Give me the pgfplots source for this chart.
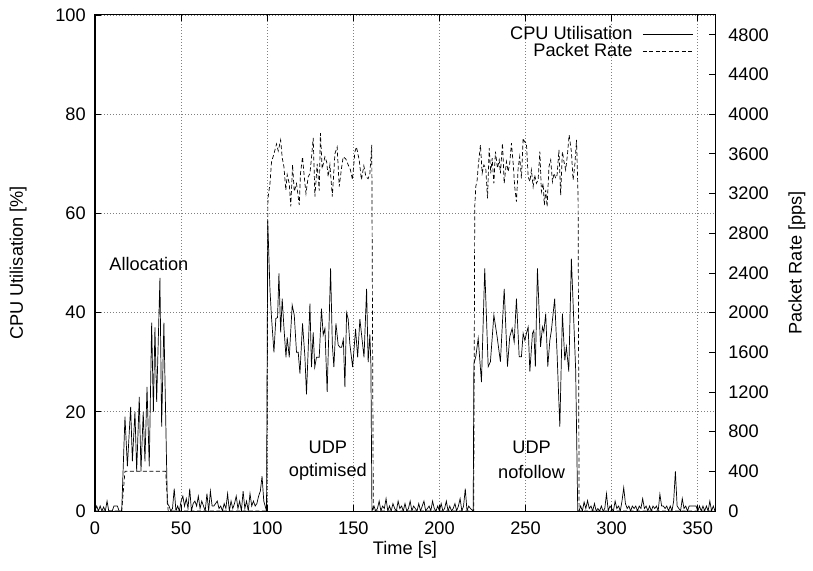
\documentclass[border=0pt]{standalone}
\usepackage{fontspec}
\setmainfont{Liberation Sans}
\usepackage{pgfplots}
\pgfplotsset{compat=1.18}
\usetikzlibrary{calc}

\begin{document}
\fontsize{18.2}{21}\selectfont
\begin{tikzpicture}
\pgfplotsset{
  every axis/.append style={
    scale only axis, width=620pt, height=496pt,
    xmin=0, xmax=360,
    font=\fontsize{18.2}{21}\selectfont,
    /pgf/number format/assume math mode=true,
    /pgf/number format/1000 sep={},
    scaled ticks=false,
    major tick length=6pt,
    tick style={black, line width=0.8pt},
    axis line style={line width=1pt},
  }
}
\begin{axis}[
  name=main,
  ymin=0, ymax=100,
  xtick={0,50,...,350},
  ytick={0,20,...,100},
  xtick pos=both, ytick pos=left,
  xticklabel style={yshift=-5pt},
  yticklabel style={xshift=-3pt},
  grid=major,
  major grid style={gray, line width=0.7pt, dash pattern=on 1pt off 2pt},
  xlabel={Time [s]},
  ylabel={CPU Utilisation [\%]},
  xlabel style={at={(axis description cs:0.5,-0.079)}, anchor=center},
  ylabel style={at={(axis description cs:-0.124,0.5)}, anchor=center},
]
\addplot[black, line width=0.7pt] coordinates {
(0,0) (1,1) (2,0) (3,1) (4,0) (5,0.8) (6,0) (7,2) (8,0) (9,0) (10,0) (11,1) (12,1) (13,1) (14,0) (15.5,0)
(17.4,19) (18.8,9) (20.7,21) (21.7,10) (23.2,20) (24.2,8) (25.7,23) (26.7,8) (28.0,20) (29.0,10)
(30.2,25) (31.5,9) (32.9,38) (33.9,20) (34.8,37) (35.8,22) (37.7,47) (38.7,17) (40.0,38) (42.0,1.5)
(43,1) (44,0) (45,0.5) (46,4.5) (47,0) (48,1) (49,0) (50,2) (51,3) (52,1) (53,2.5) (54,0.5) (55,4.5)
(56,0) (57,1.5) (58,2) (59,1) (60,3) (61,0.5) (62,2) (63,1) (64,0) (65,3.5) (66,0) (67,4) (68,1)
(69,1) (70,1.5) (71,2) (72,0.5) (73,1) (74,0) (75,1.5) (76,0.5) (77,3.5) (78,0) (79,2) (80,0.5)
(81,1.5) (82,3) (83,0.5) (84,2) (85,0) (86,4) (87,0.5) (88,2) (89,0) (90,3.5) (91,1) (92,2) (93,1)
(94,1.5) (95,3) (96,4) (97,7) (98,2) (99.6,0)
(100.3,58.5) (101.6,44.5) (102.5,39) (103.9,32) (105.0,38.8) (106.0,39) (106.8,47.9) (107.8,36)
(108.7,42.8) (109.7,37) (110.9,31) (111.6,35) (112.8,31) (114.5,41.5) (115.7,39.5) (117.0,32)
(118.0,32) (119.0,27.7) (120.5,37.8) (121.9,31) (122.8,23.5) (124.8,41.8) (125.7,29) (126.7,36)
(127.6,29) (128.6,31) (130.2,31) (131.5,40.8) (132.5,35.5) (133.5,36.8) (134.8,24) (136.8,48.9)
(137.8,33.6) (138.7,29) (139.9,37.8) (141.2,33.5) (142.2,33) (143.2,33) (144.2,34.6) (145.1,25)
(146.1,40) (147.0,38.7) (148.0,33.6) (149.6,29) (151.3,36.7) (152.5,31) (153.8,38.7) (156.2,31)
(157.7,44.8) (158.6,30) (159.6,35.6) (160.2,29.5) (160.8,0)
(162,1) (163,0) (164,0.5) (165,2) (166,0) (167,1) (168,0.5) (169,2.5) (170,0) (171,1) (172,0)
(173,1.5) (174,0.5) (175,0) (176,2) (177,0.5) (178,1) (179,0) (180,1.5) (181,0) (182,0.5) (183,2)
(184,0) (185,1) (186,0.5) (187,0) (188,1.5) (189,0) (190,1) (191,2) (192,0) (193,0.5) (194,1)
(195,0) (196,2) (197,0.5) (198,0) (199,1) (200,0) (201,1.5) (202,0) (203,0.5) (204,2) (205,0)
(206,1) (207,0) (208,0.5) (209,1.5) (210,0) (211,1) (212,2.5) (213,0) (214,1) (215,4.5) (216,0)
(217,1) (218,0.5) (219.6,0)
(220.0,29.7) (221.1,31.1) (222.5,34.8) (224.4,26) (226.3,48.9) (228.3,29.1) (229.6,30.1)
(231.6,39.5) (233.5,35.1) (235.4,30.1) (237.6,44.8) (239.5,29.1) (240.8,35.1) (242.2,36.8)
(243.4,34.1) (244.7,42.8) (246.3,31.1) (247.6,31.1) (248.6,35.8) (249.6,34.4) (250.5,35.8)
(251.5,37.1) (252.5,28.1) (254.0,35.8) (254.8,36.4) (255.7,29.1) (256.9,48.9) (258.7,33.1)
(259.8,37.1) (260.6,36.1) (261.7,39.8) (262.9,29.1) (264.1,34.4) (265.0,36.4) (266.9,42.8)
(268.3,31.7) (269.9,17) (271.4,39.8) (272.8,30.4) (273.7,33.1) (275.1,28.1) (276.6,50.9)
(279.1,28.4) (280.3,0)
(281,0) (282,1) (283,0) (284,1.8) (285,0.5) (286,2.1) (287,0.5) (288,1) (289,0) (290,1.5) (291,0)
(292,0.5) (293,0) (294,1) (295,0) (296,0.5) (297,3.5) (298,0) (299,1) (300,0.5) (301,0) (302,2)
(303,0.5) (304,1) (305,0) (306,2) (307,4.7) (308,1.5) (309,0.5) (310,1) (311,0) (312,1) (313,0.5)
(314,1) (315,0) (316,1) (317,0.5) (318,2.5) (319,0.5) (320,1) (321,0) (322,1) (323,0) (324,1)
(325,0.5) (326,1) (327,0) (328,3.4) (329,1) (330,1) (331,0.5) (332,1) (333,0) (334,1) (335,0)
(336,2) (337,8) (338,1) (339,0.5) (340,0) (341,2.5) (342,0.5) (343,1) (344,0) (345,1) (346,1)
(347,1) (348,1) (349,1) (350,0) (351,1) (352,0) (353,1) (354,0) (355,1) (356,0) (357,2) (358,0)
(359,1) (360,0)
};
\node at (axis cs:31.3,49.8) {Allocation};
\node at (axis cs:135.2,12.9) {UDP};
\node at (axis cs:135.2,7.9) {optimised};
\node at (axis cs:253.5,12.9) {UDP};
\node at (axis cs:253.5,7.9) {nofollow};
\end{axis}
\begin{axis}[
  ymin=0, ymax=5000,
  ytick={0,400,...,4800},
  xtick=\empty,
  ytick pos=right, yticklabel pos=right,
  yticklabel style={xshift=7pt},
  ylabel={Packet Rate [pps]},
  ylabel style={at={(axis description cs:1.132,0.5)}, anchor=center},
  legend style={draw=none, fill=none, at={(axis description cs:0.97,0.985)}, anchor=north east, row sep=-3pt, column sep=8pt},
  legend cell align=right,
  legend plot pos=right,
  legend image code/.code={\draw[#1] (0pt,0pt) -- (50pt,0pt);},
]
\addlegendimage{black, line width=0.7pt}
\addlegendentry{CPU Utilisation}
\addplot[black, line width=0.7pt, dash pattern=on 4pt off 2.5pt] coordinates {
(0,0) (15.5,0) (17.4,400) (41,400) (42.5,0) (99.8,0)
(100.4,3150) (101.6,3300) (102.5,3520) (103.9,3600) (105.4,3700) (106.4,3630) (107.8,3740)
(108.7,3560) (109.7,3470) (110.8,3235) (111.6,3390) (112.8,3300) (113.7,3070) (114.7,3490)
(115.7,3220) (117.0,3300) (118.6,3085) (119.3,3400) (120.5,3570) (121.5,3370) (122.5,3200)
(123.8,3370) (124.8,3400) (125.7,3560) (126.7,3760) (127.7,3170) (129.0,3500) (130.2,3230)
(130.9,3810) (131.9,3450) (133.5,3570) (134.5,3520) (135.4,3370) (136.4,3490) (137.8,3170)
(139.3,3600) (140.6,3670) (141.8,3270) (143.1,3450) (144.1,3570) (145.6,3550) (147.0,3490)
(148.3,3440) (149.5,3340) (150.9,3620) (151.8,3670) (153.4,3540) (154.7,3340) (156.1,3480)
(157.3,3370) (158.6,3350) (159.6,3400) (160.7,3690) (161.6,0)
(219.9,0) (220.5,3067) (221.1,3269) (221.9,3337) (222.5,3471) (223.8,3690) (224.8,3404)
(225.8,3488) (226.9,3455) (227.9,3152) (228.9,3657) (229.8,3404) (230.6,3556) (231.6,3303)
(232.5,3623) (233.7,3455) (234.7,3539) (235.4,3404) (236.6,3707) (237.6,3303) (238.9,3522)
(239.9,3421) (240.8,3505) (241.8,3707) (242.8,3505) (243.7,3269) (244.7,3118) (245.7,3455)
(246.6,3572) (247.6,3354) (248.6,3758) (249.3,3724) (250.5,3707) (251.5,3370) (252.5,3320)
(253.4,3438) (254.4,3269) (255.3,3387) (256.3,3303) (257.3,3337) (258.3,3623) (259.2,3219)
(260.2,3303) (260.9,3084) (261.7,3236) (262.5,3067) (263.6,3471) (264.6,3539) (265.6,3320)
(266.5,3404) (267.5,3354) (268.3,3387) (269.4,3640) (270.4,3185) (271.4,3623) (272.3,3522)
(273.3,3438) (274.3,3589) (275.3,3791) (276.6,3623) (277.6,3337) (278.6,3488) (279.6,3741)
(280.5,3168) (281.1,0) (360,0)
};
\addlegendentry{Packet Rate}
\end{axis}
\path ($(main.south west)+(-95pt,-59.3pt)$) rectangle ($(main.north east)+(98pt,15pt)$);
\end{tikzpicture}
\end{document}
